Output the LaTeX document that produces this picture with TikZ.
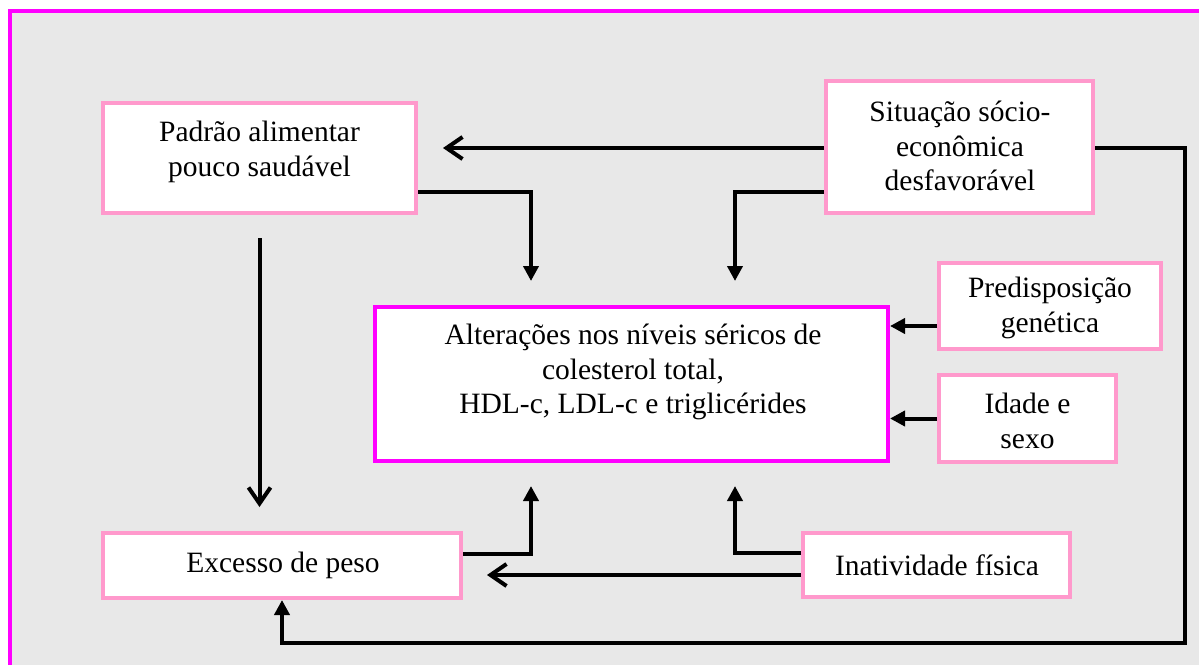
\documentclass[tikz,border=0pt]{standalone}
\usepackage{fontspec}
\setmainfont{Liberation Serif}
\usetikzlibrary{arrows.meta}
\definecolor{bgray}{HTML}{E8E8E8}
\definecolor{pinkb}{HTML}{FF99CC}
\definecolor{magb}{HTML}{FF00FF}
\begin{document}
\begin{tikzpicture}[x=1pt,y=-1pt,
  box/.style={draw=pinkb,line width=4pt,fill=white,inner sep=0pt},
  mainbox/.style={draw=magb,line width=4pt,fill=white,inner sep=0pt},
  txt/.style={align=center,font=\fontsize{29.5}{34.5}\selectfont,inner sep=0pt},
  conn/.style={line width=4pt,draw=black},
  filled/.style={conn,-{Triangle[length=15pt,width=15pt]}},
  openarr/.style={conn,-{Straight Barb[length=16pt,width=22pt,line width=4pt]}}
]
\useasboundingbox (0,0) rectangle (1199,664);
\clip (0,0) rectangle (1199,664);
\fill[white] (0,0) rectangle (1199,664);
\draw[draw=magb,line width=4.5pt,fill=bgray] (10,11) rectangle (1220,690);

% boxes
\node[box,minimum width=313pt,minimum height=110pt] (padrao) at (259.5,158) {};
\node[txt] (padraoT) at (259.5,152) {Padrão alimentar\\pouco saudável};
\node[box,minimum width=267pt,minimum height=132pt] (sit) at (959.5,147) {};
\node[txt] (sitT) at (960,146) {Situação sócio-\\econômica\\desfavorável};
\node[mainbox,minimum width=513pt,minimum height=154pt] (central) at (631.5,384) {};
\node[txt] (centralT) at (633,372) {Alterações nos níveis séricos de\\colesterol total,\\HDL-c, LDL-c e triglicérides};
\node[box,minimum width=222pt,minimum height=86pt] (pred) at (1050,306) {};
\node[txt] (predT) at (1050,308) {Predisposição\\genética};
\node[box,minimum width=177pt,minimum height=87pt] (idade) at (1027.5,418.5) {};
\node[txt] (idadeT) at (1027.5,421) {Idade e\\sexo};
\node[box,minimum width=358pt,minimum height=65pt] (excesso) at (282,565.5) {};
\node[txt] (excessoT) at (283,565) {Excesso de peso};
\node[box,minimum width=267pt,minimum height=64pt] (inat) at (936.5,565) {};
\node[txt] (inatT) at (937,565) {Inatividade física};

% free ends
\coordinate (tA) at (531,281);
\coordinate (tB) at (735,281);
\coordinate (tC) at (531,486);
\coordinate (tD) at (735,486);
\coordinate (tE) at (443,148);
\coordinate (tF) at (259.5,507);
\coordinate (tG) at (487,575);
\coordinate (cR) at (1185,643);

% connectors
\draw[openarr] (sit.west |- tE) -- (tE);
\draw[filled] ([yshift=23pt]padrao.south east) -| (tA);
\draw[filled] ([yshift=23pt]sit.south west) -| (tB);
\draw[openarr] ([yshift=-23pt]padrao.south) -- (tF);
\draw[filled] (sit.east |- tE) -| (cR) -| (excesso.south);
\draw[filled] ([yshift=12pt]excesso.east) -| (tC);
\draw[filled] ([yshift=12pt]inat.west) -| (tD);
\draw[openarr] ([yshift=-10pt]inat.west) -- (tG);
\draw[filled] ([yshift=-20pt]pred.west) -- ([yshift=-20pt]pred.west -| central.east);
\draw[filled] (idade.west) -- (idade.west -| central.east);
\end{tikzpicture}
\end{document}
